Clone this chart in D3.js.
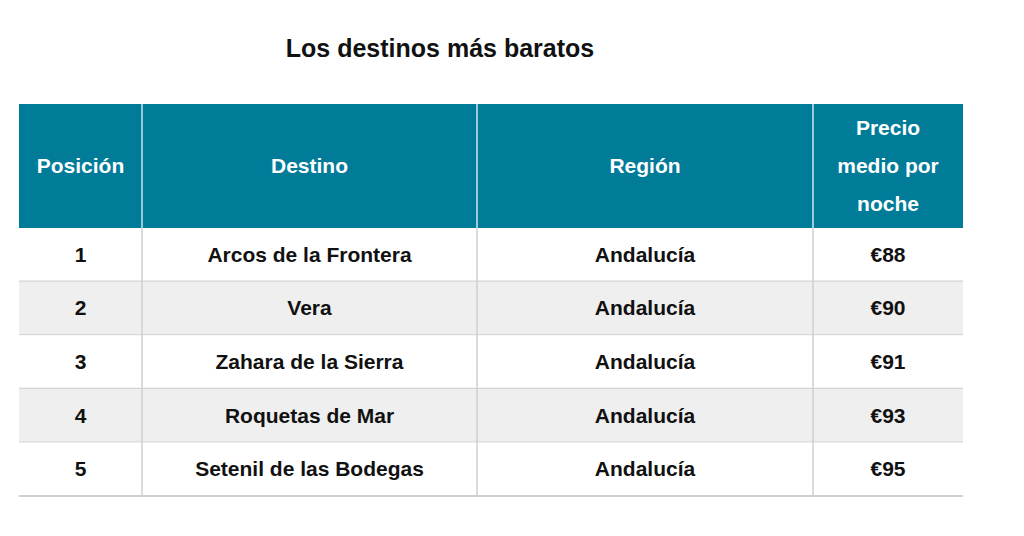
<!DOCTYPE html><html><head><meta charset="utf-8"><script src="https://d3js.org/d3.v7.min.js"></script>
<style>body{margin:0;background:#fff}text{font-family:"Liberation Sans",Arial,sans-serif;font-weight:bold}</style></head><body>
<svg id="c" width="1024" height="536"></svg>
<script>
const headers=[["Posición"],["Destino"],["Región"],["Precio","medio por","noche"]];
const positions=["1","2","3","4","5"];
const destinos=["Arcos de la Frontera","Vera","Zahara de la Sierra","Roquetas de Mar","Setenil de las Bodegas"];
const regiones=["Andalucía","Andalucía","Andalucía","Andalucía","Andalucía"];
const precios=["€88","€90","€91","€93","€95"];
const colEdges=[19,142,477,813,963];
const svg=d3.select("#c");
svg.append("text").attr("x",440).attr("y",57).attr("text-anchor","middle").attr("font-size",25).attr("fill","#111").text("Los destinos más baratos");
const x0=19,hy=104,hh=124;
const y=d3.scaleBand().domain(d3.range(5)).range([228,496]);
svg.append("rect").attr("x",x0).attr("y",hy).attr("width",944).attr("height",hh).attr("fill","#007c99");
headers.forEach((h,i)=>{const cx=(colEdges[i]+colEdges[i+1])/2;const n=h.length;
 h.forEach((l,j)=>svg.append("text").attr("x",cx).attr("y",hy+hh/2+(j-(n-1)/2)*38+7).attr("text-anchor","middle").attr("font-size",21).attr("fill","#fff").text(l));});
const rows=positions.map((p,i)=>[p,destinos[i],regiones[i],precios[i]]);
rows.forEach((r,i)=>{
 svg.append("rect").attr("x",x0).attr("y",y(i)).attr("width",944).attr("height",y.bandwidth()).attr("fill",i%2?"#efefef":"#fff");
 svg.append("line").attr("x1",x0).attr("x2",963).attr("y1",y(i)+y.bandwidth()).attr("y2",y(i)+y.bandwidth()).attr("stroke","#cfcfcf").attr("stroke-width",2);
 r.forEach((v,k)=>svg.append("text").attr("x",(colEdges[k]+colEdges[k+1])/2).attr("y",y(i)+y.bandwidth()/2+7).attr("text-anchor","middle").attr("font-size",21).attr("fill","#111").text(v));
});
colEdges.slice(1,4).forEach(e=>{
 svg.append("line").attr("x1",e).attr("x2",e).attr("y1",hy).attr("y2",228).attr("stroke","#cfe3ea").attr("stroke-width",1.5);
 svg.append("line").attr("x1",e).attr("x2",e).attr("y1",228).attr("y2",496).attr("stroke","#cfcfcf").attr("stroke-width",1.5);
});
</script></body></html>
